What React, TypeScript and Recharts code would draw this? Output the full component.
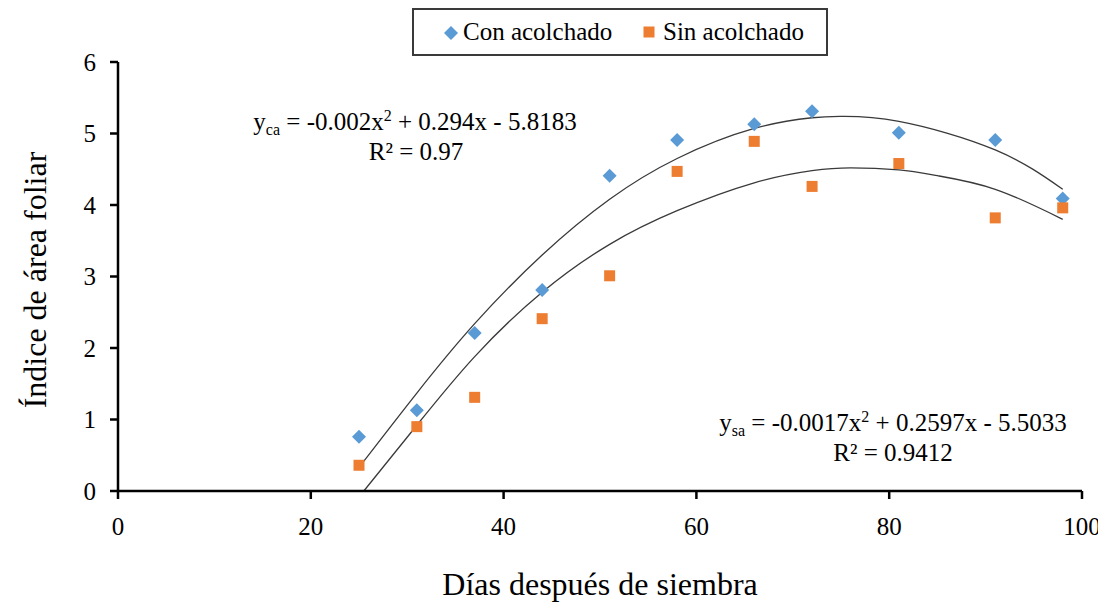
import React from 'react';
import { ComposedChart, Scatter, Line, XAxis, YAxis, Customized } from 'recharts';

// ---- data ----
const days = [25, 31, 37, 44, 51, 58, 66, 72, 81, 91, 98];
const conAcolchado = [0.76, 1.13, 2.21, 2.81, 4.41, 4.91, 5.13, 5.31, 5.01, 4.91, 4.09];
const sinAcolchado = [0.36, 0.9, 1.31, 2.41, 3.01, 4.47, 4.89, 4.26, 4.58, 3.82, 3.96];

// trend curves
const trendCaX = [25, 31, 37, 44, 51, 58, 66, 72, 75, 81, 91, 98];
const trendCaY = [0.33, 1.37, 2.34, 3.3, 4.08, 4.65, 5.07, 5.22, 5.24, 5.17, 4.77, 4.22];
const trendSaX = [25.5, 31, 37, 44, 51, 58, 66, 72, 76, 81, 85, 91, 98];
const trendSaY = [0, 0.92, 1.88, 2.78, 3.45, 3.92, 4.31, 4.48, 4.52, 4.49, 4.41, 4.22, 3.8];

const xTicks = [0, 20, 40, 60, 80, 100];
const yTicks = [0, 1, 2, 3, 4, 5, 6];

const seriesNames = ['Con acolchado', 'Sin acolchado'];
const seriesColors = ['#5B9BD5', '#ED7D31'];

const xTitle = 'Días después de siembra';
const yTitle = 'Índice de área foliar';

const toPoints = (xs: number[], ys: number[]) => xs.map((x, i) => ({ x, y: ys[i] }));

const conData = toPoints(days, conAcolchado);
const sinData = toPoints(days, sinAcolchado);
const trendCa = toPoints(trendCaX, trendCaY);
const trendSa = toPoints(trendSaX, trendSaY);

const FONT = '"Liberation Serif", "Times New Roman", Times, serif';

const Diamond = (props: any) => {
  const { cx, cy, fill } = props;
  if (cx == null || cy == null) return null;
  const r = 7;
  return <polygon points={`${cx},${cy - r} ${cx + r},${cy} ${cx},${cy + r} ${cx - r},${cy}`} fill={fill} />;
};

const Square = (props: any) => {
  const { cx, cy, fill } = props;
  if (cx == null || cy == null) return null;
  const s = 11;
  return <rect x={cx - s / 2} y={cy - s / 2} width={s} height={s} fill={fill} />;
};

const Annotations = () => (
  <g fontFamily={FONT} fill="#000">
    <text x={407} y={122} fontSize={25} textAnchor="middle">
      y<tspan fontSize={16} dy={5}>ca</tspan>
      <tspan dy={-5}> = -0.002x</tspan>
      <tspan fontSize={16} dy={-9}>2</tspan>
      <tspan dy={9}> + 0.294x - 5.8183</tspan>
    </text>
    <text x={408} y={152} fontSize={25} textAnchor="middle">R² = 0.97</text>
    <text x={885} y={423} fontSize={25} textAnchor="middle">
      y<tspan fontSize={16} dy={5}>sa</tspan>
      <tspan dy={-5}> = -0.0017x</tspan>
      <tspan fontSize={16} dy={-9}>2</tspan>
      <tspan dy={9}> + 0.2597x - 5.5033</tspan>
    </text>
    <text x={885} y={453} fontSize={25} textAnchor="middle">R² = 0.9412</text>
    <text x={592} y={587} fontSize={32} textAnchor="middle">{xTitle}</text>
    <text x={38} y={272} fontSize={32} textAnchor="middle" transform="rotate(-90, 38, 272)">{yTitle}</text>
  </g>
);

const LegendBox = () => (
  <div
    style={{
      position: 'absolute',
      left: 404,
      top: 0,
      width: 416,
      height: 48,
      boxSizing: 'border-box',
      border: '2px solid #3a3a3a',
      background: '#fff',
      fontFamily: FONT,
      fontSize: 25,
      color: '#000',
    }}
  >
    <svg style={{ position: 'absolute', left: 29, top: 15 }} width={16} height={16}>
      <polygon points="8,1 15,8 8,15 1,8" fill={seriesColors[0]} />
    </svg>
    <span style={{ position: 'absolute', left: 49, top: 0, lineHeight: '44px', whiteSpace: 'nowrap' }}>{seriesNames[0]}</span>
    <svg style={{ position: 'absolute', left: 229, top: 16 }} width={12} height={12}>
      <rect x={0.5} y={0.5} width={11} height={11} fill={seriesColors[1]} />
    </svg>
    <span style={{ position: 'absolute', left: 249, top: 0, lineHeight: '44px', whiteSpace: 'nowrap' }}>{seriesNames[1]}</span>
  </div>
);

export default function App() {
  return (
    <div style={{ position: 'relative', width: 1098, height: 594 }}>
      <style>{`.recharts-surface{overflow:visible}`}</style>
      <ComposedChart width={1098} height={594} margin={{ top: 54, right: 24, bottom: 51, left: 0 }}>
        <XAxis
          type="number"
          dataKey="x"
          domain={[0, 100]}
          ticks={xTicks}
          interval={0}
          height={60}
          axisLine={{ stroke: '#000', strokeWidth: 2.5 }}
          tickLine={{ stroke: '#000', strokeWidth: 2.5 }}
          tickSize={8}
          tickMargin={18}
          tick={{ fill: '#000', fontSize: 25, fontFamily: FONT }}
        />
        <YAxis
          type="number"
          dataKey="y"
          domain={[0, 6]}
          ticks={yTicks}
          interval={0}
          width={110}
          axisLine={{ stroke: '#000', strokeWidth: 2.5 }}
          tickLine={{ stroke: '#000', strokeWidth: 2.5 }}
          tickSize={8}
          tickMargin={14}
          tick={{ fill: '#000', fontSize: 25, fontFamily: FONT }}
        />
        <Line
          data={trendCa}
          dataKey="y"
          type="natural"
          stroke="#3a3a3a"
          strokeWidth={1.3}
          dot={false}
          activeDot={false}
          legendType="none"
          isAnimationActive={false}
        />
        <Line
          data={trendSa}
          dataKey="y"
          type="natural"
          stroke="#3a3a3a"
          strokeWidth={1.3}
          dot={false}
          activeDot={false}
          legendType="none"
          isAnimationActive={false}
        />
        <Scatter
          name={seriesNames[0]}
          data={conData}
          dataKey="y"
          fill={seriesColors[0]}
          shape={(p: any) => <Diamond {...p} />}
          isAnimationActive={false}
        />
        <Scatter
          name={seriesNames[1]}
          data={sinData}
          dataKey="y"
          fill={seriesColors[1]}
          shape={(p: any) => <Square {...p} />}
          isAnimationActive={false}
        />
        <Customized component={Annotations} />
      </ComposedChart>
      <LegendBox />
    </div>
  );
}
